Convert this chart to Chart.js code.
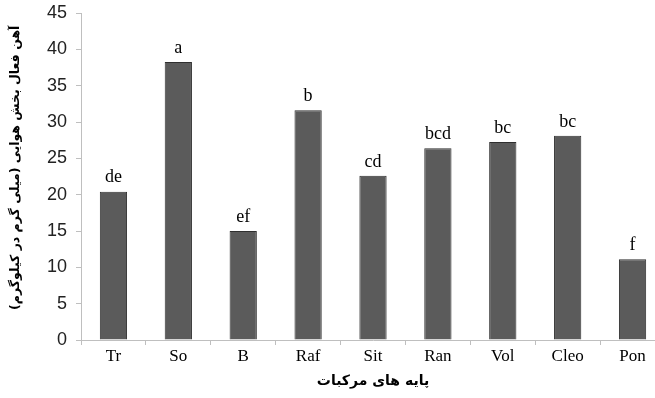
<!DOCTYPE html>
<html>
<head>
<meta charset="utf-8">
<script src="https://cdn.jsdelivr.net/npm/chart.js@4"></script>
<style>
    html, body { margin: 0; padding: 0; background: #fff; overflow: hidden; }
    #wrap { width: 670px; height: 398px; }
</style>
</head>
<body>
<div id="wrap"><canvas id="IronGraph"></canvas></div>
<script>
let categories = ["Tr", "So", "B", "Raf", "Sit", "Ran", "Vol", "Cleo", "Pon"];
let ironValues = [20.4, 38.25, 15.0, 31.6, 22.6, 26.4, 27.25, 28.1, 11.1];
let groupLetters = ["de", "a", "ef", "b", "cd", "bcd", "bc", "bc", "f"];
let yTicks = [0, 5, 10, 15, 20, 25, 30, 35, 40, 45];

// trailing nbsp's nudge the rotated title a little towards the top
let yTitle = "\u202Bآهن فعال بخش هوایی (میلی گرم در کیلوگرم)\u00A0\u00A0\u00A0\u00A0\u202C";
let xTitle = "\u202Bپایه های مرکبات\u202C";

// letters above each bar
let letterPlugin = {
    id: "letterPlugin",
    afterDatasetsDraw: function (chart) {
        let ctx = chart.ctx;
        let meta = chart.getDatasetMeta(0);
        ctx.save();
        ctx.font = "18px 'Liberation Serif'";
        ctx.fillStyle = "#000";
        ctx.textAlign = "center";
        ctx.textBaseline = "bottom";
        meta.data.forEach(function (bar, i) {
            ctx.fillText(groupLetters[i], bar.x, bar.y - 5);
        });
        ctx.restore();
    }
};

let ironContext = document.getElementById("IronGraph").getContext("2d");
let ironChart = new Chart(ironContext, {
    type: "bar",
    data: {
        labels: categories,
        datasets: [{
            data: ironValues,
            backgroundColor: "#5b5b5b",
            borderColor: "#2f2f2f",
            borderWidth: 1,
            categoryPercentage: 1,
            barPercentage: 0.42
        }]
    },
    options: {
        responsive: true,
        maintainAspectRatio: false,
        animation: false,
        layout: { padding: { top: 13, right: 5, left: 0, bottom: 0 } },
        plugins: {
            legend: { display: false },
            tooltip: { enabled: false }
        },
        scales: {
            x: {
                grid: { drawOnChartArea: false, color: "#bfbfbf", tickLength: 5, offset: true },
                border: { color: "#bfbfbf" },
                ticks: { color: "#000", font: { family: "Liberation Serif", size: 17 }, padding: 1 },
                title: {
                    display: true,
                    text: xTitle,
                    color: "#000",
                    font: { family: "DejaVu Sans", size: 14, weight: "bold" },
                    padding: { top: 0, bottom: 8 }
                },
                afterFit: function (scale) { scale.height = 58; }
            },
            y: {
                min: 0,
                max: 45,
                afterBuildTicks: function (scale) {
                    scale.ticks = yTicks.map(v => ({ value: v }));
                },
                grid: { drawOnChartArea: false, color: "#bfbfbf", tickLength: 5 },
                border: { color: "#bfbfbf" },
                ticks: { color: "#222", font: { family: "Liberation Sans", size: 18 }, padding: 9 },
                title: {
                    display: true,
                    text: yTitle,
                    color: "#000",
                    font: { family: "DejaVu Sans", size: 12.5, weight: "bold" },
                    padding: { top: 8, bottom: 0 }
                },
                afterFit: function (scale) {
                    scale.width = 81;
                    scale.paddingTop = 0;
                }
            }
        }
    },
    plugins: [letterPlugin]
});
</script>
</body>
</html>
